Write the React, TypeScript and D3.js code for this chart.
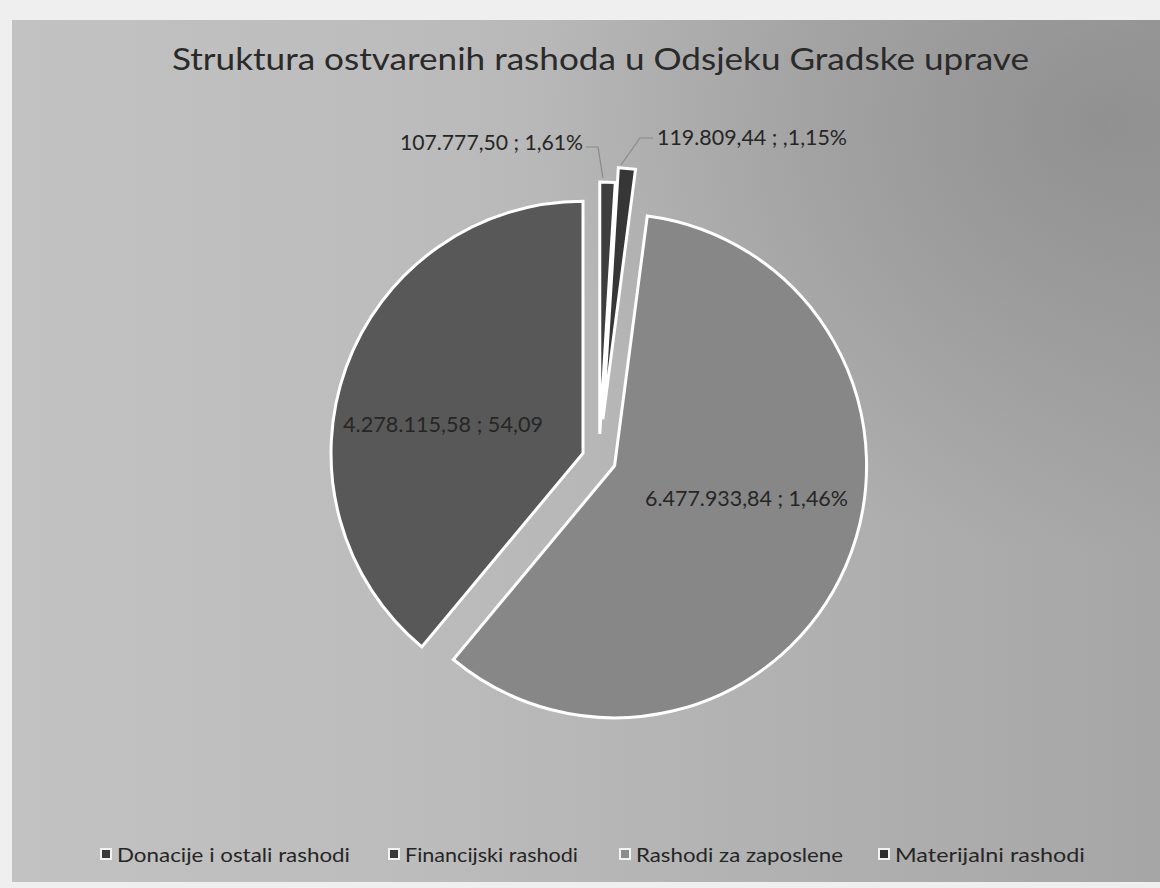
import React from "react";
import * as d3 from "d3";

const categories = [
  "Donacije i ostali rashodi",
  "Financijski rashodi",
  "Rashodi za zaposlene",
  "Materijalni rashodi",
];
const values = [107777.5, 119809.44, 6477933.84, 4278115.58];
const labelTexts = [
  "107.777,50 ; 1,61%",
  "119.809,44 ; ,1,15%",
  "6.477.933,84 ; 1,46%",
  "4.278.115,58 ; 54,09",
];
const title = "Struktura ostvarenih rashoda u Odsjeku Gradske uprave";

// styles / layout
const colors = ["#3e3e3e", "#363636", "#878787", "#585858"];
const legendColors = ["#3a3a3a", "#3a3a3a", "#8c8c8c", "#2e2e2e"];
const explode = [25, 40, 17, 17];
const labelLayout = [
  { x: 400, y: 150, w: 183 },
  { x: 657, y: 145, w: 190 },
  { x: 645, y: 506, w: 203 },
  { x: 343, y: 432, w: 200 },
];
const legendLayout = [
  { mx: 100, tx: 117, w: 233 },
  { mx: 388, tx: 405, w: 173 },
  { mx: 619, tx: 636, w: 207 },
  { mx: 878, tx: 895, w: 190 },
];

export default function App() {
  const W = 1160;
  const H = 888;
  const cx = 599;
  const cy = 459;
  const R = 252;
  const font = "Lato, 'Open Sans', sans-serif";

  const pie = d3
    .pie<number>()
    .sort(null)
    .startAngle(0)
    .endAngle(2 * Math.PI)(values);
  const arc = d3.arc<d3.PieArcDatum<number>>().innerRadius(0).outerRadius(R);

  return (
    <div style={{ position: "absolute", left: 0, top: 0 }}>
      <svg width={W} height={H} style={{ display: "block" }}>
        <defs>
          <linearGradient id="bg" x1="0" y1="0" x2="1" y2="0">
            <stop offset="0" stopColor="#c2c2c2" />
            <stop offset="0.35" stopColor="#bcbcbc" />
            <stop offset="0.7" stopColor="#b0b0b0" />
            <stop offset="1" stopColor="#a6a6a6" />
          </linearGradient>
          <radialGradient id="dark" cx="0.95" cy="0.12" r="0.5">
            <stop offset="0" stopColor="#7a7a7a" stopOpacity="0.5" />
            <stop offset="1" stopColor="#7a7a7a" stopOpacity="0" />
          </radialGradient>
        </defs>
        <rect x={0} y={0} width={W} height={H} fill="#efefef" />
        <rect x={12} y={20} width={W - 12} height={862} fill="url(#bg)" />
        <rect x={12} y={20} width={W - 12} height={862} fill="url(#dark)" />

        <text
          x={172}
          y={70}
          fontFamily={font}
          fontSize={31}
          fill="#2a2a2a"
          textLength={857}
          lengthAdjust="spacingAndGlyphs"
        >
          {title}
        </text>

        {pie.map((d, i) => {
          const mid = (d.startAngle + d.endAngle) / 2;
          const dx = explode[i] * Math.sin(mid);
          const dy = -explode[i] * Math.cos(mid);
          return (
            <path
              key={i}
              d={arc(d) || ""}
              transform={`translate(${cx + dx},${cy + dy})`}
              fill={colors[i]}
              stroke="#ffffff"
              strokeWidth={3}
              strokeLinejoin="miter"
            />
          );
        })}

        {/* leader lines */}
        <polyline
          points="586,147 598,147 603,178"
          fill="none"
          stroke="#8a8a8a"
          strokeWidth={1.2}
        />
        <polyline
          points="653,138 640,138 621,165"
          fill="none"
          stroke="#8a8a8a"
          strokeWidth={1.2}
        />

        {labelTexts.map((t, i) => (
          <text
            key={i}
            x={labelLayout[i].x}
            y={labelLayout[i].y}
            fontFamily={font}
            fontSize={21}
            fill="#262626"
            textLength={labelLayout[i].w}
            lengthAdjust="spacingAndGlyphs"
          >
            {t}
          </text>
        ))}

        {categories.map((c, i) => (
          <g key={i}>
            <rect
              x={legendLayout[i].mx}
              y={848}
              width={12}
              height={12}
              fill="#f2f2f2"
            />
            <rect
              x={legendLayout[i].mx + 2}
              y={850}
              width={8}
              height={8}
              fill={legendColors[i]}
            />
            <text
              x={legendLayout[i].tx}
              y={862}
              fontFamily={font}
              fontSize={19}
              fill="#262626"
              textLength={legendLayout[i].w}
              lengthAdjust="spacingAndGlyphs"
            >
              {c}
            </text>
          </g>
        ))}
      </svg>
    </div>
  );
}
